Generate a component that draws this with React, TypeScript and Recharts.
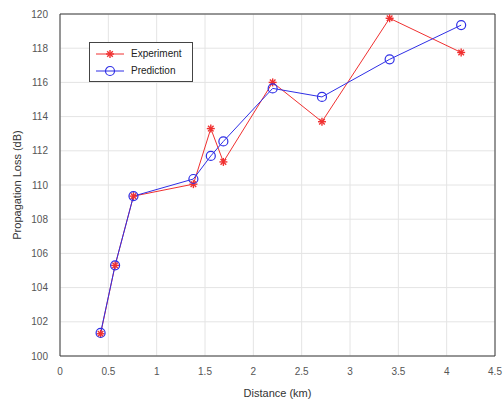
import {
  LineChart,
  Line,
  XAxis,
  YAxis,
  CartesianGrid,
  ReferenceLine,
} from "recharts";

const distanceKm = [0.42, 0.57, 0.76, 1.38, 1.56, 1.69, 2.2, 2.71, 3.41, 4.15];
const experimentDb = [101.3, 105.3, 109.35, 110.05, 113.3, 111.35, 116.0, 113.7, 119.75, 117.75];
const predictionDb = [101.35, 105.3, 109.35, 110.35, 111.7, 112.55, 115.65, 115.15, 117.35, 119.35];
const xTicks = [0, 0.5, 1, 1.5, 2, 2.5, 3, 3.5, 4, 4.5];
const yTicks = [100, 102, 104, 106, 108, 110, 112, 114, 116, 118, 120];

const RED = "#f03030";
const BLUE = "#2f2fe6";
const AXIS = "#3a3a3a";
const FONT = "'Liberation Sans', Arial, sans-serif";

const data = distanceKm.map((d, i) => ({
  distance: d,
  experiment: experimentDb[i],
  prediction: predictionDb[i],
}));

function StarDot(props: any) {
  const { cx, cy } = props;
  if (cx == null || cy == null) return null;
  const s = 4;
  const d = 2.8;
  return (
    <g stroke={RED} strokeWidth={1.4}>
      <line x1={cx - s} y1={cy} x2={cx + s} y2={cy} />
      <line x1={cx} y1={cy - s} x2={cx} y2={cy + s} />
      <line x1={cx - d} y1={cy - d} x2={cx + d} y2={cy + d} />
      <line x1={cx - d} y1={cy + d} x2={cx + d} y2={cy - d} />
    </g>
  );
}

function CircleDot(props: any) {
  const { cx, cy } = props;
  if (cx == null || cy == null) return null;
  return <circle cx={cx} cy={cy} r={4.5} fill="none" stroke={BLUE} strokeWidth={1.2} />;
}

function LegendBox() {
  const row = (label: string, color: string, marker: React.ReactNode) => (
    <div style={{ display: "flex", alignItems: "center", height: 17 }}>
      <svg width={36} height={12} style={{ marginRight: 3 }}>
        <line x1={4} y1={6} x2={32} y2={6} stroke={color} strokeWidth={1} />
        {marker}
      </svg>
      <span style={{ fontSize: 10, color: "#222", fontFamily: FONT }}>{label}</span>
    </div>
  );
  return (
    <div
      style={{
        position: "absolute",
        left: 89,
        top: 42,
        border: "1px solid #444",
        background: "#fff",
        width: 100,
        padding: "2px 0 2px 2px",
      }}
    >
      {row("Experiment", RED, <StarDot cx={18} cy={6} />)}
      {row("Prediction", BLUE, <CircleDot cx={18} cy={6} />)}
    </div>
  );
}

export default function App() {
  return (
    <div style={{ position: "absolute", left: 0, top: 0, width: 503, height: 401, background: "#fff" }}>
      <LineChart
        width={503}
        height={401}
        data={data}
        margin={{ top: 14, right: 8, left: 8, bottom: 0 }}
      >
        <CartesianGrid stroke="#e4e4e4" strokeWidth={1} />
        <XAxis
          dataKey="distance"
          type="number"
          domain={[0, 4.5]}
          ticks={xTicks}
          height={45}
          stroke={AXIS}
          tickLine={false}
          tickMargin={6}
          tick={{ fontSize: 10, fill: "#555", fontFamily: FONT }}
          label={{
            value: "Distance (km)",
            position: "insideBottom",
            offset: 4,
            style: { fontSize: 11, fill: "#333", fontFamily: FONT },
          }}
        />
        <YAxis
          type="number"
          domain={[100, 120]}
          ticks={yTicks}
          width={52}
          stroke={AXIS}
          tickLine={false}
          tickMargin={6}
          tick={{ fontSize: 10, fill: "#555", fontFamily: FONT }}
          label={{
            value: "Propagation Loss (dB)",
            angle: -90,
            position: "insideLeft",
            offset: 9,
            style: { fontSize: 11, fill: "#333", fontFamily: FONT, textAnchor: "middle" },
          }}
        />
        <ReferenceLine y={120} stroke={AXIS} />
        <ReferenceLine x={4.5} stroke={AXIS} />
        <Line
          dataKey="experiment"
          name="Experiment"
          stroke={RED}
          strokeWidth={1}
          dot={<StarDot />}
          isAnimationActive={false}
        />
        <Line
          dataKey="prediction"
          name="Prediction"
          stroke={BLUE}
          strokeWidth={1}
          dot={<CircleDot />}
          isAnimationActive={false}
        />
      </LineChart>
      <LegendBox />
    </div>
  );
}
